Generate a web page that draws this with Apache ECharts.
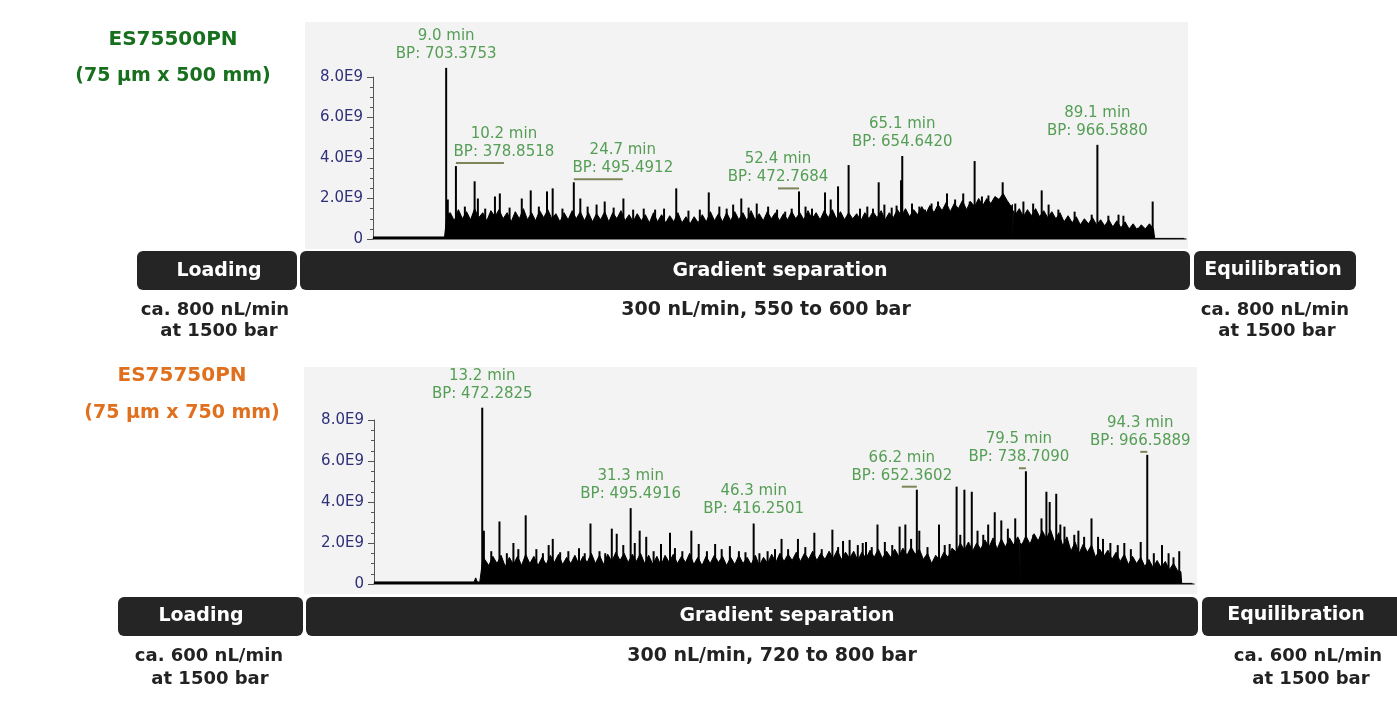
<!DOCTYPE html>
<html>
<head>
<meta charset="utf-8">
<title>ES75500PN vs ES75750PN</title>
<script src="https://cdn.jsdelivr.net/npm/echarts@6.0.0/dist/echarts.min.js"></script>
<style>
html, body { margin: 0; padding: 0; background: #fff; }
#chart { width: 1397px; height: 702px; }
</style>
</head>
<body>
<div id="chart"></div>
<script>
// intensities are in units of 1E9, retention time in minutes

// ---- ES75500PN (75 um x 500 mm) ----
var topHead = [[0,0.1],[8.8,0.1],[9.1,1.2]];
// dense background signal, one reading every 0.5 min from 9.5 min
var topGrassStart = 9.5, topGrassStep = 0.5;
var topGrass = [
  1.3,0.9,1.45,1.0,1.35,0.95,1.5,1.05,1.3,0.9,
  1.4,1.1,1.45,1.0,1.3,0.85,1.35,1.0,1.5,0.95,
  1.3,0.9,1.4,1.05,1.45,1.0,1.25,0.85,1.3,0.95,
  1.4,1.0,1.35,0.9,1.3,0.85,1.25,0.95,1.35,0.85,
  1.3,1.0,1.4,0.9,1.2,0.85,1.25,0.9,1.2,0.8,
  1.3,0.85,1.2,0.8,1.15,0.85,1.3,0.8,1.1,0.75,
  1.1,0.8,1.2,0.85,1.35,0.9,1.25,0.85,1.3,0.9,
  1.35,0.95,1.3,0.9,1.4,0.95,1.25,0.9,1.35,1.0,
  1.3,0.9,1.25,0.95,1.35,1.0,1.3,0.95,1.4,1.0,
  1.3,0.95,1.4,1.05,1.45,1.0,1.35,0.95,1.3,1.0,
  1.25,0.9,1.3,1.0,1.35,1.05,1.4,0.95,1.3,1.05,
  1.45,1.15,1.5,1.1,1.45,1.2,1.6,1.25,1.65,1.3,
  1.7,1.4,1.8,1.35,1.75,1.5,1.9,1.45,1.85,1.6,
  2.0,1.65,2.0,1.75,2.1,1.95,2.25,1.9,1.6,1.2,
  1.5,1.1,1.45,1.15,1.5,1.1,1.4,1.05,1.35,1.0,
  1.3,0.85,1.15,0.8,1.1,0.7,1.0,0.75,1.05,0.7,
  0.95,0.65,0.95,0.6,0.9,0.55,0.85,0.5,0.75,0.45,
  0.7,0.5,0.75,0.5];
var topDropout = [[78.65,1.7],[78.7,0],[78.75,1.4]];
var topTail = [[96.15,0.03],[99.8,0.03]];

var topPeaks = [[9.0,8.45],[9.2,1.95],[10.2,3.6],[11.3,1.6],[12.5,2.85],[12.9,2.0],[13.8,1.5],[15.0,2.1],[15.6,2.25],[16.8,1.55],
  [18.3,2.0],[19.4,2.4],[20.4,1.6],[21.4,2.35],[22.1,2.5],[23.3,1.5],[24.7,2.8],[25.5,2.0],[26.4,1.6],[27.5,1.7],[28.5,1.85],
  [29.6,1.55],[30.8,2.0],[32.0,1.45],[33.3,1.5],[34.7,1.45],[35.8,1.5],[37.3,2.5],[38.8,1.4],[40.2,1.45],[41.3,2.3],[42.6,1.6],
  [43.5,1.5],[44.3,1.7],[45.3,2.0],[46.2,1.55],[47.2,1.75],[48.6,1.6],[49.7,1.45],[50.7,1.35],[51.5,1.5],[52.4,2.35],[53.2,1.6],
  [54.0,1.5],[55.6,2.3],[56.3,1.95],[57.2,2.6],[58.5,3.65],[59.9,1.5],[60.8,1.6],[61.5,1.5],[62.2,2.8],[62.9,1.7],[63.8,1.55],
  [64.4,1.65],[64.95,2.9],[65.1,4.1],[66.3,1.75],[67.2,1.6],[67.9,1.45],[68.7,1.75],[69.5,1.85],[70.6,2.25],[71.6,1.95],[72.6,2.25],
  [73.4,1.85],[74.0,3.85],[74.9,2.1],[75.7,2.15],[76.5,1.95],[77.45,2.8],[79.0,1.75],[80.0,1.85],[81.2,1.75],[82.25,2.4],
  [83.1,1.7],[84.3,1.45],[86.3,1.35],[88.4,1.2],[89.1,4.65],[90.45,1.15],[91.7,1.2],[92.3,1.15],[94.1,0.55],[95.9,1.85]];

var topLabelTimes = [9.0, 10.2, 24.7, 52.4, 65.1, 89.1];
var topLabelBP = ['703.3753', '378.8518', '495.4912', '472.7684', '654.6420', '966.5880'];
var topLabelShift = [0, 48, 49, -21, 0, 0];

// ---- ES75750PN (75 um x 750 mm) ----
var bottomHead = [[0,0.1],[12.2,0.1],[12.4,0.3],[12.6,0.1],[12.9,0.1],[13.3,1.3]];
var bottomGrassStart = 13.5, bottomGrassStep = 0.5;
var bottomGrass = [
  1.2,0.9,1.35,1.0,1.4,0.85,1.3,0.95,1.35,0.9,
  1.45,1.0,1.35,0.9,1.3,0.95,1.4,1.05,1.45,0.95,
  1.3,1.0,1.4,0.95,1.35,1.05,1.5,1.0,1.4,0.95,
  1.45,1.1,1.55,1.15,1.5,1.05,1.45,1.1,1.5,1.0,
  1.4,0.95,1.35,0.9,1.4,1.05,1.45,1.0,1.35,1.05,
  1.5,0.95,1.3,0.9,1.35,1.0,1.4,1.05,1.35,0.9,
  1.3,0.95,1.4,1.0,1.3,0.95,1.4,0.9,1.3,1.0,
  1.45,1.05,1.5,1.1,1.45,1.15,1.55,1.1,1.5,1.2,
  1.6,1.15,1.5,1.2,1.6,1.25,1.65,1.2,1.55,1.25,
  1.6,1.15,1.55,1.25,1.65,1.3,1.7,1.25,1.6,1.3,
  1.7,1.35,1.75,1.4,1.8,1.45,1.7,1.2,1.5,1.0,
  1.4,1.15,1.55,1.3,1.75,1.55,2.0,1.65,2.05,1.6,
  2.0,1.7,2.15,1.8,2.25,1.7,2.2,1.8,2.25,1.9,
  2.3,1.9,2.35,1.95,2.45,2.1,2.6,2.2,2.65,2.05,
  2.5,1.85,2.3,1.6,2.05,1.5,1.95,1.55,1.9,1.3,
  1.7,1.35,1.65,1.2,1.55,1.1,1.45,0.95,1.35,1.0,
  1.3,0.85,1.2,0.8,1.15,0.8,1.1,0.7,1.0,0.65];
var bottomDropout = [[78.75,2.1],[78.8,0],[78.85,2.0]];
var bottomTail = [[98.4,0.6],[98.5,0.03],[99.8,0.03]];

var bottomPeaks = [[13.2,8.6],[13.4,2.6],[14.3,1.6],[15.3,3.05],[16.2,1.5],[17.0,2.0],[17.6,1.7],[18.5,3.35],[19.8,1.7],[20.6,1.5],
  [21.3,1.9],[21.8,2.2],[22.7,1.55],[23.7,1.6],[25.0,1.75],[25.7,1.5],[26.4,2.95],[27.5,1.6],[28.2,1.5],[29.0,2.7],[29.6,2.45],
  [30.4,1.9],[31.3,3.7],[31.8,2.0],[32.4,2.6],[33.2,2.3],[34.1,1.6],[35.0,1.95],[36.1,2.5],[36.7,1.75],[37.6,1.6],[38.7,2.6],
  [39.6,1.95],[40.6,1.6],[41.6,1.95],[42.4,1.7],[43.4,1.85],[44.5,1.6],[45.3,1.55],[46.3,2.95],[47.0,1.5],[48.0,1.6],[48.9,1.7],
  [49.7,2.2],[50.5,1.7],[51.7,2.2],[52.6,1.8],[53.7,2.5],[54.6,1.7],[55.9,2.65],[56.6,1.8],[57.2,2.1],[58.0,2.15],[59.0,1.9],
  [59.6,2.0],[60.0,2.05],[60.7,1.8],[61.4,2.9],[62.3,2.05],[63.2,1.9],[64.1,2.8],[64.8,2.9],[65.5,2.2],[66.2,4.6],[66.5,2.6],
  [67.5,1.8],[68.9,2.9],[69.6,1.9],[70.2,1.95],[71.05,4.75],[71.5,2.4],[72.0,4.6],[72.9,4.5],[73.6,2.6],[74.3,2.4],[74.9,2.9],
  [75.7,3.5],[76.5,3.1],[77.3,2.7],[78.2,3.2],[79.5,5.5],[80.4,2.4],[81.4,3.2],[82.0,4.5],[82.4,4.0],[83.2,4.4],[83.7,2.9],
  [84.2,2.8],[85.4,2.4],[85.9,2.6],[86.6,2.3],[87.5,3.2],[88.3,2.3],[88.9,2.2],[89.8,2.0],[90.7,1.9],[91.5,2.0],[92.3,1.7],
  [93.5,2.05],[94.3,6.3],[95.1,1.5],[96.1,1.9],[96.9,1.5],[97.5,1.3],[98.2,1.6]];

var bottomLabelTimes = [13.2, 31.3, 46.3, 66.2, 79.5, 94.3];
var bottomLabelBP = ['472.2825', '495.4916', '416.2501', '652.3602', '738.7090', '966.5889'];
var bottomLabelShift = [0, 0, 0, -15, -7, -7];

var yTickValues = [0, 2, 4, 6, 8];

var FONT = 'DejaVu Sans';
var LABEL_GREEN = '#2d882d';
var chart = echarts.init(document.getElementById('chart'));

function buildTrace(head, start, step, grass, dropout, tail) {
  var pts = head.slice();
  grass.forEach(function (v, i) { pts.push([start + i * step, v]); });
  pts = pts.concat(dropout, tail);
  pts.sort(function (a, b) { return a[0] - b[0]; });
  return pts;
}

function peakHeight(peaks, t) {
  for (var i = 0; i < peaks.length; i++) {
    if (Math.abs(peaks[i][0] - t) < 0.001) return peaks[i][1];
  }
  return 0;
}

function xAxisFor(idx) {
  return {
    gridIndex: idx, type: 'value', min: 0, max: 100,
    axisLine: { show: true, onZero: false, lineStyle: { color: '#555', width: 1.5 } },
    axisTick: { show: false }, axisLabel: { show: false }, splitLine: { show: false }
  };
}

function yAxisFor(idx) {
  return {
    gridIndex: idx, type: 'value', min: yTickValues[0], max: yTickValues[yTickValues.length - 1], interval: 2,
    axisLine: { show: true, lineStyle: { color: '#555', width: 1 } },
    axisTick: { show: true, length: 6, lineStyle: { color: '#555' } },
    minorTick: { show: true, splitNumber: 4, length: 3, lineStyle: { color: '#555' } },
    splitLine: { show: false },
    axisLabel: {
      color: '#30307a', fontFamily: FONT, fontSize: 15, margin: 10,
      formatter: function (v) { return v === 0 ? '0' : v.toFixed(1) + 'E9'; }
    }
  };
}

function runSeries(idx, trace, peaks, labelTimes, labelBP, labelShift) {
  return [
    {
      type: 'line', xAxisIndex: idx, yAxisIndex: idx,
      data: trace, symbol: 'none', silent: true,
      lineStyle: { color: '#000', width: 1 },
      areaStyle: { color: '#000', opacity: 1 }
    },
    {
      type: 'bar', xAxisIndex: idx, yAxisIndex: idx,
      data: peaks, barWidth: 2, clip: false, silent: true,
      itemStyle: { color: '#000' }
    },
    {
      type: 'scatter', xAxisIndex: idx, yAxisIndex: idx, symbolSize: 0, silent: true, clip: false,
      data: labelTimes.map(function (t, i) {
        return { value: [t, peakHeight(peaks, t)], label: { offset: [labelShift[i], 0] } };
      }),
      label: {
        show: true, position: 'top', distance: 5,
        color: LABEL_GREEN, fontFamily: FONT, fontSize: 15, lineHeight: 18, align: 'center',
        formatter: function (p) {
          return labelTimes[p.dataIndex].toFixed(1) + ' min\nBP: ' + labelBP[p.dataIndex];
        }
      }
    }
  ];
}

function box(x, y, w, h) {
  return { type: 'rect', z: 1, shape: { x: x, y: y, width: w, height: h, r: 6 }, style: { fill: '#252525' } };
}

function text(str, x, y, size, color) {
  return {
    type: 'text', z: 2,
    style: {
      text: str, x: x, y: y, fill: color, textAlign: 'center', textVerticalAlign: 'middle',
      font: 'bold ' + size + 'px "' + FONT + '"'
    }
  };
}

var graphics = [
  { type: 'rect', z: -1, shape: { x: 305, y: 22, width: 883, height: 227 }, style: { fill: '#f3f3f3' } },
  { type: 'rect', z: -1, shape: { x: 304, y: 367, width: 893, height: 227 }, style: { fill: '#f3f3f3' } },

  text('ES75500PN', 173, 40, 20, '#18701f'),
  text('(75 µm x 500 mm)', 173, 76, 19, '#18701f'),
  text('ES75750PN', 182, 376, 20, '#e0701e'),
  text('(75 µm x 750 mm)', 182, 413, 19, '#e0701e'),

  box(137, 251, 160, 39), box(300, 251, 890, 39), box(1194, 251, 162, 39),
  text('Loading', 219, 271, 19, '#fff'),
  text('Gradient separation', 780, 271, 19, '#fff'),
  text('Equilibration', 1273, 270, 19, '#fff'),
  text('ca. 800 nL/min', 215, 310, 18, '#222'),
  text('at 1500 bar', 219, 331, 18, '#222'),
  text('300 nL/min, 550 to 600 bar', 766, 310, 19, '#222'),
  text('ca. 800 nL/min', 1275, 310, 18, '#222'),
  text('at 1500 bar', 1277, 331, 18, '#222'),

  box(118, 597, 185, 39), box(306, 597, 892, 39), box(1202, 597, 200, 39),
  text('Loading', 201, 616, 19, '#fff'),
  text('Gradient separation', 787, 616, 19, '#fff'),
  text('Equilibration', 1296, 615, 19, '#fff'),
  text('ca. 600 nL/min', 209, 656, 18, '#222'),
  text('at 1500 bar', 210, 679, 18, '#222'),
  text('300 nL/min, 720 to 800 bar', 772, 656, 19, '#222'),
  text('ca. 600 nL/min', 1308, 656, 18, '#222'),
  text('at 1500 bar', 1311, 679, 18, '#222')
];

var option = {
  animation: false,
  backgroundColor: '#fff',
  grid: [
    { left: 373, right: 211, top: 77, bottom: 463 },
    { left: 374, right: 203, top: 420, bottom: 118 }
  ],
  xAxis: [xAxisFor(0), xAxisFor(1)],
  yAxis: [yAxisFor(0), yAxisFor(1)],
  series: runSeries(0, buildTrace(topHead, topGrassStart, topGrassStep, topGrass, topDropout, topTail),
      topPeaks, topLabelTimes, topLabelBP, topLabelShift)
    .concat(runSeries(1, buildTrace(bottomHead, bottomGrassStart, bottomGrassStep, bottomGrass, bottomDropout, bottomTail),
      bottomPeaks, bottomLabelTimes, bottomLabelBP, bottomLabelShift)),
  graphic: graphics
};

chart.setOption(option);

// short leader strokes between an off-centre label and its peak
function leaders(gridIndex, peaks, labelTimes, labelShift) {
  var out = [];
  labelTimes.forEach(function (t, i) {
    if (!labelShift[i]) return;
    var p = chart.convertToPixel({ gridIndex: gridIndex }, [t, peakHeight(peaks, t)]);
    out.push({
      type: 'line', z: 3,
      shape: { x1: p[0], y1: p[1] - 3, x2: p[0] + labelShift[i], y2: p[1] - 3 },
      style: { stroke: '#7f8458', lineWidth: 2 }
    });
  });
  return out;
}

chart.setOption({
  graphic: graphics.concat(leaders(0, topPeaks, topLabelTimes, topLabelShift),
    leaders(1, bottomPeaks, bottomLabelTimes, bottomLabelShift))
});
</script>
</body>
</html>
